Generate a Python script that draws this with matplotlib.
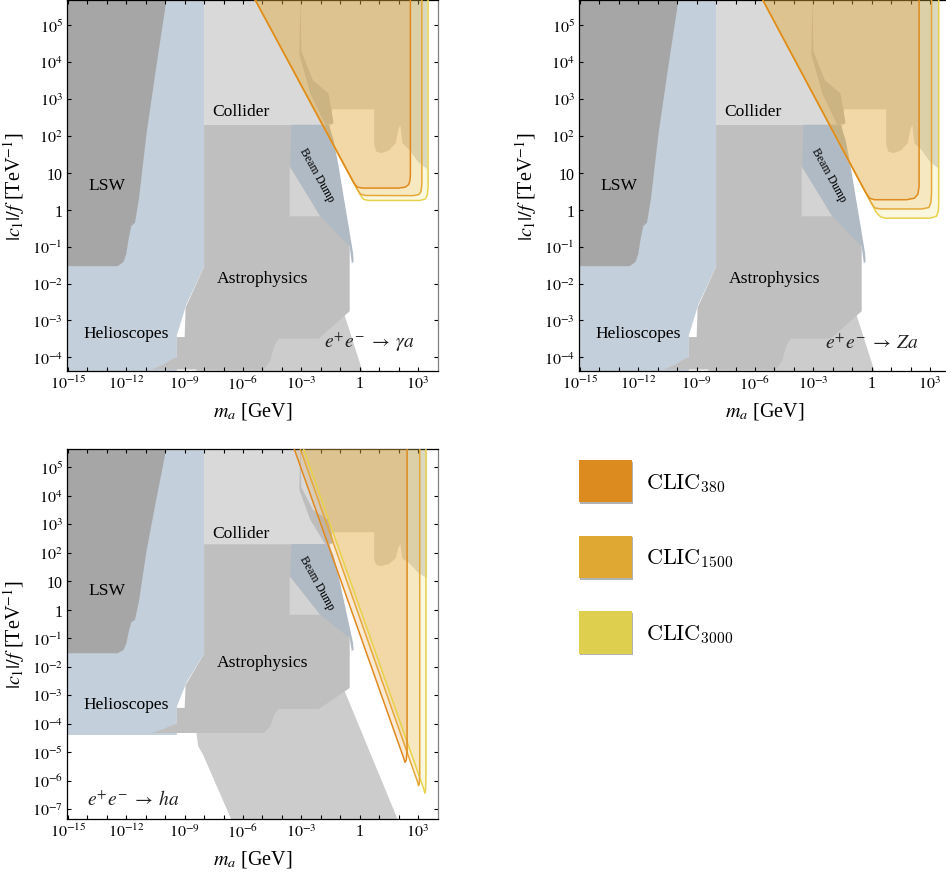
import numpy as np
import matplotlib
matplotlib.use("Agg")
import matplotlib.pyplot as plt
from matplotlib import patheffects
from matplotlib.patches import Patch
from matplotlib.ticker import FixedLocator, FuncFormatter

plt.rcParams['font.family'] = ['Liberation Serif', 'DejaVu Serif']
plt.rcParams['mathtext.fontset'] = 'stix'

# --- existing bounds, vertices as (log10 m_a/GeV, log10 |c1|/f TeV^-1) ---
HELIO = [(-15.2, 5.8), (-8.0, 5.8), (-8.0, -1.55), (-8.9, -2.55), (-9.4, -3.4),
         (-9.4, -4.4), (-15.2, -4.4)]
LSW = [(-9.9, 5.8), (-10.45, 3.9), (-10.95, 2.1), (-11.35, 0.3), (-11.55, -0.35),
       (-11.75, -0.45), (-11.9, -0.85), (-12.0, -1.2), (-12.15, -1.42),
       (-12.45, -1.53), (-15.2, -1.53), (-15.2, 5.8)]
COLLIDER = [(-8.0, 5.8), (-8.0, 2.3), (-1.42, 2.3), (-1.42, 2.72), (0.75, 2.72),
            (0.75, 1.75), (0.85, 1.58), (1.1, 1.53), (1.5, 1.6), (1.85, 1.8),
            (2.0, 2.2), (2.1, 2.3), (2.2, 1.8), (2.6, 1.6), (3.0, 1.3),
            (3.47, 1.1), (3.47, 5.8)]
SLIVER = [(-3.05, 5.8), (-3.0, 4.3), (-2.4, 3.5), (-1.6, 3.15), (-1.34, 2.34),
          (-1.77, 2.3), (-2.54, 3.15), (-3.1, 4.2)]
ASTRO = [(-8.0, 2.3), (-1.55, 2.3), (-0.55, -1.0), (-0.51, -1.0), (-0.51, -2.75),
         (-2.11, -3.49), (-4.17, -3.49), (-4.4, -3.7), (-4.6, -4.1), (-4.94, -4.33),
         (-10.7, -4.33), (-10.1, -4.2), (-9.7, -4.07), (-9.4, -4.0), (-9.4, -3.45),
         (-9.0, -3.45), (-8.95, -2.65), (-8.0, -1.55)]
ASTRO_LOW = [(-8.4, -4.3), (-8.3, -4.8), (-8.05, -5.1), (-6.45, -7.6), (2.1, -7.6),
             (-0.82, -2.78), (-1.5, -2.6), (-4.5, -3.3), (-5.0, -4.3)]
BD_PATCH = [(-3.6, 1.17), (-2.02, -0.18), (-3.6, -0.18)]
BEAM_DUMP = [(-3.5, 2.3), (-1.6, 2.3), (-1.34, 1.89), (-1.08, 1.17), (-0.74, 0.09),
             (-0.48, -0.72), (-0.34, -1.17), (-0.31, -1.40), (-0.4, -1.46),
             (-0.51, -1.0), (-2.02, -0.18), (-3.57, 1.17)]

# --- CLIC reach, order: 380, 1500, 3000 ---
GA = [
    [(-5.44, 5.75), (-0.3, 0.73), (-0.12, 0.61), (0.15, 0.585), (2.0, 0.585),
     (2.35, 0.61), (2.52, 0.68), (2.59, 0.8), (2.61, 0.95), (2.61, 5.75)],
    [(-5.44, 5.75), (-0.12, 0.55), (0.05, 0.42), (0.3, 0.385), (2.75, 0.38),
     (3.05, 0.41), (3.16, 0.5), (3.2, 0.7), (3.2, 5.75)],
    [(-5.44, 5.75), (0.02, 0.41), (0.2, 0.28), (0.45, 0.25), (3.1, 0.25),
     (3.38, 0.29), (3.48, 0.4), (3.52, 0.6), (3.52, 5.75)],
]
ZA = [
    [(-5.67, 5.75), (-0.3, 0.46), (-0.1, 0.31), (0.15, 0.27), (1.8, 0.27),
     (2.2, 0.31), (2.38, 0.42), (2.44, 0.63), (2.44, 5.75)],
    [(-5.67, 5.75), (-0.05, 0.21), (0.15, 0.05), (0.45, 0.02), (2.6, 0.02),
     (2.95, 0.06), (3.05, 0.2), (3.08, 0.45), (3.08, 5.75)],
    [(-5.67, 5.75), (0.25, -0.08), (0.45, -0.19), (0.7, -0.23), (3.0, -0.23),
     (3.33, -0.18), (3.43, -0.05), (3.45, 0.2), (3.45, 5.75)],
]
HA = [
    [(-3.42, 5.75), (2.27, -5.22), (2.33, -5.36), (2.40, -5.28), (2.44, -4.95),
     (2.44, 5.75)],
    [(-3.11, 5.75), (2.98, -6.05), (3.03, -6.18), (3.07, -6.1), (3.09, -5.75),
     (3.09, 5.75)],
    [(-2.94, 5.75), (3.30, -6.30), (3.35, -6.44), (3.39, -6.34), (3.41, -5.95),
     (3.41, 5.75)],
]

CLIC_LABELS = [r'$\mathrm{CLIC}_{380}$', r'$\mathrm{CLIC}_{1500}$', r'$\mathrm{CLIC}_{3000}$']
LINE_COLORS = ['#E08A1E', '#E5A838', '#E8D24A']
FILL_COLORS = ['#DE8C28', '#E4AC40', '#E8D450']
LEGEND_COLORS = ['#DC8C1E', '#DFA832', '#DED04E']

# region labels (log10 m, log10 c)
REGION_TEXT = [("LSW", -13.0, 0.68), ("Collider", -6.1, 2.68),
               ("Astrophysics", -5.0, -1.85), ("Helioscopes", -12.0, -3.33)]
PROCESS = [(r'$e^{+}e^{-}\;\rightarrow\;\gamma a$', 0.53, -3.56),
           (r'$e^{+}e^{-}\;\rightarrow\;Za$', 0.0, -3.59),
           (r'$e^{+}e^{-}\;\rightarrow\;ha$', -11.63, -6.65)]


def fill_log(ax, pts, color, z=1, **kw):
    lx, ly = np.array(pts).T
    return ax.fill(10.0**lx, 10.0**ly, color=color, lw=0, zorder=z, **kw)


def tick_label(v, pos, step=1):
    e = int(round(np.log10(v)))
    if e % step:
        return ''
    if e == 0:
        return '1'
    if e == 1:
        return '10'
    return r'$10^{%d}$' % e


def setup_panel(ax, ylo, yhi, ymin_dec):
    for pts, col in [(HELIO, '#C3CFDB'), (ASTRO_LOW, '#CCCCCC'),
                     (COLLIDER, '#D9D9D9'), (SLIVER, '#BDBDBD'),
                     (ASTRO, '#BFBFBF'), (BD_PATCH, '#D3D3D3'),
                     (BEAM_DUMP, '#B0BAC4'), (LSW, '#A6A6A6')]:
        fill_log(ax, pts, col)

    ax.set_xscale('log')
    ax.set_yscale('log')
    ax.set_xlim(10**-15.05, 10**4.03)
    ax.set_ylim(10**ylo, 10**yhi)
    ax.xaxis.set_major_locator(FixedLocator(10.0**np.arange(-15, 4)))
    ax.yaxis.set_major_locator(FixedLocator(10.0**np.arange(ymin_dec, 6)))
    ax.xaxis.set_major_formatter(FuncFormatter(lambda v, p: tick_label(v, p, 3)))
    ax.yaxis.set_major_formatter(FuncFormatter(tick_label))
    ax.minorticks_off()
    ax.tick_params(which='major', direction='in', top=True, right=True,
                   length=3, width=0.8, labelsize=11.5, pad=3)
    for s in ax.spines.values():
        s.set_linewidth(0.9)
    ax.spines['right'].set_color('#808080')

    for txt, lx, ly in REGION_TEXT:
        ax.text(10**lx, 10**ly, txt, fontsize=12.6, ha='center', va='center',
                zorder=10)
    ax.text(10**-2.2, 10**0.95, "Beam Dump", fontsize=8.5, rotation=-61,
            ha='center', va='center', zorder=10)

    ax.set_xlabel(r'$m_a$ [GeV]', fontsize=14.5)
    ax.set_ylabel(r'$|c_1|/f$ [TeV$^{-1}$]', fontsize=14.5)
    ax.xaxis.set_label_coords(0.5, -0.078)
    ax.yaxis.set_label_coords(-0.108, 0.5)


def draw_clic(ax, regions):
    for pts, fc in list(zip(regions, FILL_COLORS))[::-1]:
        fill_log(ax, pts, fc, z=5, alpha=0.18)
    for pts, lc in list(zip(regions, LINE_COLORS))[::-1]:
        lx, ly = np.array(pts).T
        ax.plot(10.0**lx, 10.0**ly, color=lc, lw=1.1, zorder=6)


fig = plt.figure(figsize=(9.46, 8.79), dpi=100)
W, H = 946.0, 879.0
ax1 = fig.add_axes([67 / W, 1 - 372 / H, 371 / W, 371 / H])
ax2 = fig.add_axes([579 / W, 1 - 372 / H, 371 / W, 371 / H])
ax3 = fig.add_axes([67 / W, 1 - 820 / H, 371 / W, 370 / H])

for ax, clic, (ptxt, px, py), lims in zip(
        [ax1, ax2, ax3], [GA, ZA, HA], PROCESS,
        [(-4.37, 5.68, -4), (-4.37, 5.68, -4), (-7.35, 5.64, -7)]):
    setup_panel(ax, *lims)
    draw_clic(ax, clic)
    ax.text(10**px, 10**py, ptxt, fontsize=14, ha='center', va='center',
            color='#222222', zorder=10)

handles = [Patch(facecolor=c, edgecolor='none', label=l)
           for c, l in zip(LEGEND_COLORS, CLIC_LABELS)]
leg = fig.legend(handles=handles, loc='upper left',
                 bbox_to_anchor=(579 / W, 1 - 461 / H), frameon=False,
                 fontsize=16, handlelength=2.4, handleheight=2.55,
                 handletextpad=0.6, labelspacing=1.5, borderpad=0,
                 borderaxespad=0)
for t in leg.get_texts():
    t.set_math_fontfamily('cm')
for h in leg.legend_handles:
    h.set_path_effects([patheffects.withSimplePatchShadow(
        offset=(0.8, -1.2), shadow_rgbFace='k', alpha=0.3), patheffects.Normal()])

fig.savefig('out.png', dpi=100)
